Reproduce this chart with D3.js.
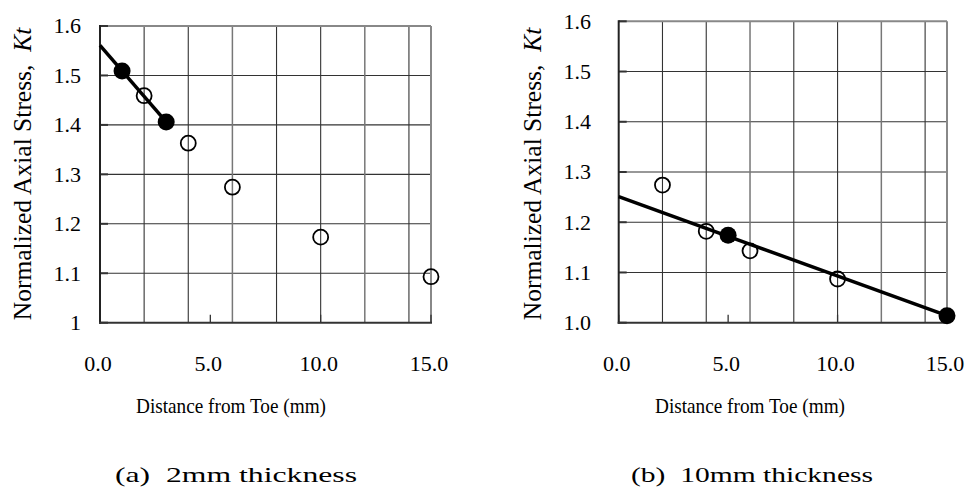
<!DOCTYPE html>
<html lang="en">
<head>
    <meta charset="UTF-8">
    <title>Normalized Axial Stress</title>
    <style>
        body, html {
            margin: 0;
            padding: 0;
            background-color: #ffffff;
        }
        svg text {
            font-family: "Liberation Serif", "Times New Roman", serif;
            fill: #000;
        }
    </style>
</head>
<body>
    <svg id="chart" width="968" height="495"></svg>

    <script src="https://d3js.org/d3.v7.min.js"></script>
    <script>
        // Axis ticks and labels
        const xTicks = [0, 5, 10, 15];
        const xTickLabels = ["0.0", "5.0", "10.0", "15.0"];
        const xGrid = [2, 4, 6, 8, 10, 12, 14];
        const yTicks = [1.0, 1.1, 1.2, 1.3, 1.4, 1.5, 1.6];
        const yTickLabelsA = ["1", "1.1", "1.2", "1.3", "1.4", "1.5", "1.6"];
        const yTickLabelsB = ["1.0", "1.1", "1.2", "1.3", "1.4", "1.5", "1.6"];

        // (a) 2mm thickness
        const openXA = [2, 4, 6, 10, 15];
        const openYA = [1.459, 1.363, 1.274, 1.173, 1.093];
        const fillXA = [1, 3];
        const fillYA = [1.509, 1.406];
        const fitXA = [0, 3];
        const fitYA = [1.561, 1.406];

        // (b) 10mm thickness
        const openXB = [2, 4, 6, 10];
        const openYB = [1.274, 1.182, 1.143, 1.087];
        const fillXB = [5, 15];
        const fillYB = [1.174, 1.014];
        const fitXB = [0, 15];
        const fitYB = [1.251, 1.014];

        const svg = d3.select("#chart");

        const panels = [
            { left: 100, right: 431, top: 26, bottom: 322.7, yLabels: yTickLabelsA,
              openX: openXA, openY: openYA, fillX: fillXA, fillY: fillYA, fitX: fitXA, fitY: fitYA,
              yLabelX: 23, tickLabelX: 81, xLabelX: 231, caption: "(a)  2mm thickness", captionX: 236 },
            { left: 618.7, right: 947, top: 21.3, bottom: 322.7, yLabels: yTickLabelsB,
              openX: openXB, openY: openYB, fillX: fillXB, fillY: fillYB, fitX: fitXB, fitY: fitYB,
              yLabelX: 533, tickLabelX: 591, xLabelX: 750, caption: "(b)  10mm thickness", captionX: 752 }
        ];

        panels.forEach(p => {
            const x = d3.scaleLinear().domain([0, 15]).range([p.left, p.right]);
            const y = d3.scaleLinear().domain([1.0, 1.6]).range([p.bottom, p.top]);
            const g = svg.append("g");

            // horizontal grid
            g.append("g").selectAll("line")
                .data(yTicks.slice(1, -1))
                .join("line")
                .attr("x1", p.left).attr("x2", p.right)
                .attr("y1", d => y(d)).attr("y2", d => y(d))
                .attr("stroke", "#333").attr("stroke-width", 1.1);

            // vertical grid
            g.append("g").selectAll("line")
                .data(xGrid)
                .join("line")
                .attr("x1", d => x(d)).attr("x2", d => x(d))
                .attr("y1", p.top).attr("y2", p.bottom)
                .attr("stroke", (d, i) => i % 3 === 2 ? "#777" : "#333")
                .attr("stroke-width", (d, i) => i % 3 === 2 ? 1.5 : 1.1);

            // frame: top and right grey, axes dark
            g.append("line").attr("x1", p.left).attr("x2", p.right).attr("y1", p.top).attr("y2", p.top)
                .attr("stroke", "#888").attr("stroke-width", 2);
            g.append("line").attr("x1", p.right).attr("x2", p.right).attr("y1", p.top).attr("y2", p.bottom)
                .attr("stroke", "#888").attr("stroke-width", 2);

            // inward tick marks
            g.append("g").selectAll("line")
                .data(xTicks)
                .join("line")
                .attr("x1", d => x(d)).attr("x2", d => x(d))
                .attr("y1", p.bottom).attr("y2", p.bottom - 8)
                .attr("stroke", "#333").attr("stroke-width", 1.3);
            g.append("g").selectAll("line")
                .data(yTicks)
                .join("line")
                .attr("x1", p.left).attr("x2", p.left + 8)
                .attr("y1", d => y(d)).attr("y2", d => y(d))
                .attr("stroke", "#333").attr("stroke-width", 2);

            g.append("line").attr("x1", p.left).attr("x2", p.left).attr("y1", p.top - 1).attr("y2", p.bottom + 1)
                .attr("stroke", "#222").attr("stroke-width", 2);
            g.append("line").attr("x1", p.left - 1).attr("x2", p.right + 1).attr("y1", p.bottom).attr("y2", p.bottom)
                .attr("stroke", "#333").attr("stroke-width", 2);

            // tick labels
            g.append("g").selectAll("text")
                .data(yTicks)
                .join("text")
                .attr("x", p.tickLabelX)
                .attr("y", d => y(d))
                .attr("dy", "0.34em")
                .attr("text-anchor", "end")
                .attr("font-size", 22)
                .text((d, i) => p.yLabels[i]);

            g.append("g").selectAll("text")
                .data(xTicks)
                .join("text")
                .attr("x", d => x(d) - 2)
                .attr("y", 371)
                .attr("text-anchor", "middle")
                .attr("font-size", 22)
                .text((d, i) => xTickLabels[i]);

            // axis titles
            g.append("text")
                .attr("x", p.xLabelX)
                .attr("y", 413)
                .attr("text-anchor", "middle")
                .attr("font-size", 22)
                .attr("textLength", 190)
                .attr("lengthAdjust", "spacingAndGlyphs")
                .text("Distance from Toe (mm)");

            const yl = g.append("text")
                .attr("transform", `translate(${p.yLabelX + 8},174) rotate(-90)`)
                .attr("text-anchor", "middle")
                .attr("font-size", 25.5)
                .style("white-space", "pre");
            yl.append("tspan").text("Normalized Axial Stress,  ");
            yl.append("tspan").attr("font-style", "italic").text("Kt");

            // caption
            g.append("text")
                .attr("x", p.captionX)
                .attr("y", 482)
                .attr("text-anchor", "middle")
                .attr("font-size", 22)
                .style("white-space", "pre")
                .attr("textLength", 242)
                .attr("lengthAdjust", "spacingAndGlyphs")
                .text(p.caption);

            // fitted line
            const line = d3.line().x(d => x(d[0])).y(d => y(d[1]));
            g.append("path")
                .datum(p.fitX.map((v, i) => [v, p.fitY[i]]))
                .attr("d", line)
                .attr("fill", "none")
                .attr("stroke", "#000")
                .attr("stroke-width", 3.5);

            // markers
            g.append("g").selectAll("circle")
                .data(p.openX.map((v, i) => [v, p.openY[i]]))
                .join("circle")
                .attr("cx", d => x(d[0]))
                .attr("cy", d => y(d[1]))
                .attr("r", 7.5)
                .attr("fill", "none")
                .attr("stroke", "#000")
                .attr("stroke-width", 1.8);

            g.append("g").selectAll("circle")
                .data(p.fillX.map((v, i) => [v, p.fillY[i]]))
                .join("circle")
                .attr("cx", d => x(d[0]))
                .attr("cy", d => y(d[1]))
                .attr("r", 8.5)
                .attr("fill", "#000");
        });
    </script>
</body>
</html>
